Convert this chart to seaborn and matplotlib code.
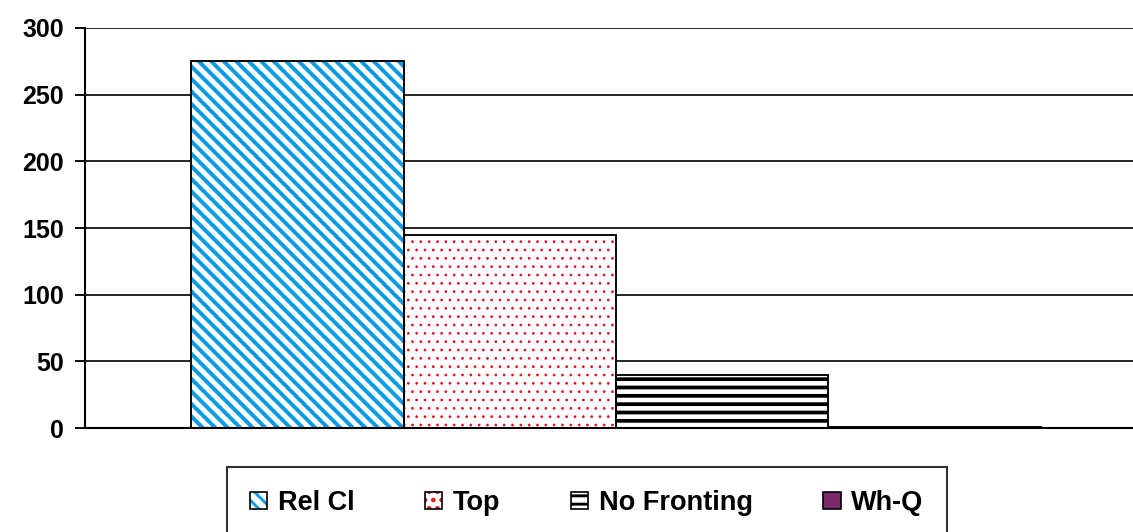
import matplotlib
matplotlib.use("Agg")
import matplotlib.pyplot as plt
from matplotlib.patches import Patch, Rectangle
import pandas as pd
import seaborn as sns

# Counts per construction type
series = ["Rel Cl", "Top", "No Fronting", "Wh-Q"]
counts = [275, 145, 40, 1]

# Fill style for each series: face colour, hatch pattern, hatch colour, hatch width
face_colors = ["white", "white", "white", "#7b2b6c"]
hatches = ["\\\\\\\\", "...", "---", ""]
hatch_colors = ["#0a9be6", "#e0141e", "black", "black"]
hatch_widths = [1.9, 0.5, 1.8, 1.0]

y_ticks = [0, 50, 100, 150, 200, 250, 300]

df = pd.DataFrame({"group": [""] * len(series), "series": series, "count": counts})

sns.set_theme(style="white")
plt.rcParams["font.family"] = ["Liberation Sans", "DejaVu Sans"]
plt.rcParams["text.color"] = "black"
plt.rcParams["ytick.color"] = "black"
plt.rcParams["ytick.labelcolor"] = "black"
plt.rcParams["hatch.linewidth"] = 1.4

fig = plt.figure(figsize=(1133 / 150, 532 / 150), dpi=150)
ax = fig.add_axes([85 / 1133, 104 / 532, 1062 / 1133, 400 / 532])

sns.barplot(data=df, x="group", y="count", hue="series", hue_order=series,
            palette=face_colors, width=0.8, legend=False, ax=ax, zorder=3)


def style_fill(p, fc, h, hc, hw):
    p.set_facecolor(fc)
    p.set_hatch(h)
    p.set_edgecolor(hc)
    p.set_linewidth(0)
    if hasattr(p, "set_hatch_linewidth"):
        p.set_hatch_linewidth(hw)
    else:
        p._hatch_linewidth = hw


# Hatch the bars and put a black outline around each one
for patch, fc, h, hc, hw in zip(ax.patches[:len(series)], face_colors, hatches,
                                hatch_colors, hatch_widths):
    style_fill(patch, fc, h, hc, hw)
    ax.add_patch(Rectangle((patch.get_x(), patch.get_y()), patch.get_width(),
                           patch.get_height(), fill=False, edgecolor="black",
                           linewidth=0.9, zorder=4))

ax.set_xlim(-0.5, 0.5)
ax.set_ylim(0, 300)
ax.set_yticks(y_ticks)
ax.set_yticklabels([str(t) for t in y_ticks], fontsize=12, fontweight="bold",
                   color="black")
ax.set_xticks([])
ax.set_xlabel("")
ax.set_ylabel("")

ax.yaxis.grid(True, color="black", linewidth=0.8)
ax.set_axisbelow(True)
ax.tick_params(axis="y", which="major", left=True, length=5, width=0.9,
               color="black", pad=5)
for side in ("top", "right"):
    ax.spines[side].set_visible(False)
for side in ("left", "bottom"):
    ax.spines[side].set_color("black")
    ax.spines[side].set_linewidth(1.0)
    ax.spines[side].set_zorder(5)

# Legend with hatched swatches and black borders
handles = []
for fc, h, hc, hw in zip(face_colors, hatches, hatch_colors, hatch_widths):
    fill = Patch()
    style_fill(fill, fc, h, hc, hw)
    border = Patch(fill=False, edgecolor="black", linewidth=0.8)
    handles.append((fill, border))

leg = fig.legend(handles, series, loc="center", bbox_to_anchor=(587 / 1133, 1 - 503 / 532),
                 ncol=4, frameon=True, fancybox=False, edgecolor="black",
                 handlelength=0.63, handleheight=0.63, handletextpad=0.4,
                 columnspacing=2.6, borderpad=0.85, borderaxespad=0,
                 labelcolor="black",
                 prop={"family": "Liberation Sans", "weight": "bold", "size": 13})
leg.get_frame().set_linewidth(1.0)

fig.savefig("out.png", dpi=150, facecolor="white")
